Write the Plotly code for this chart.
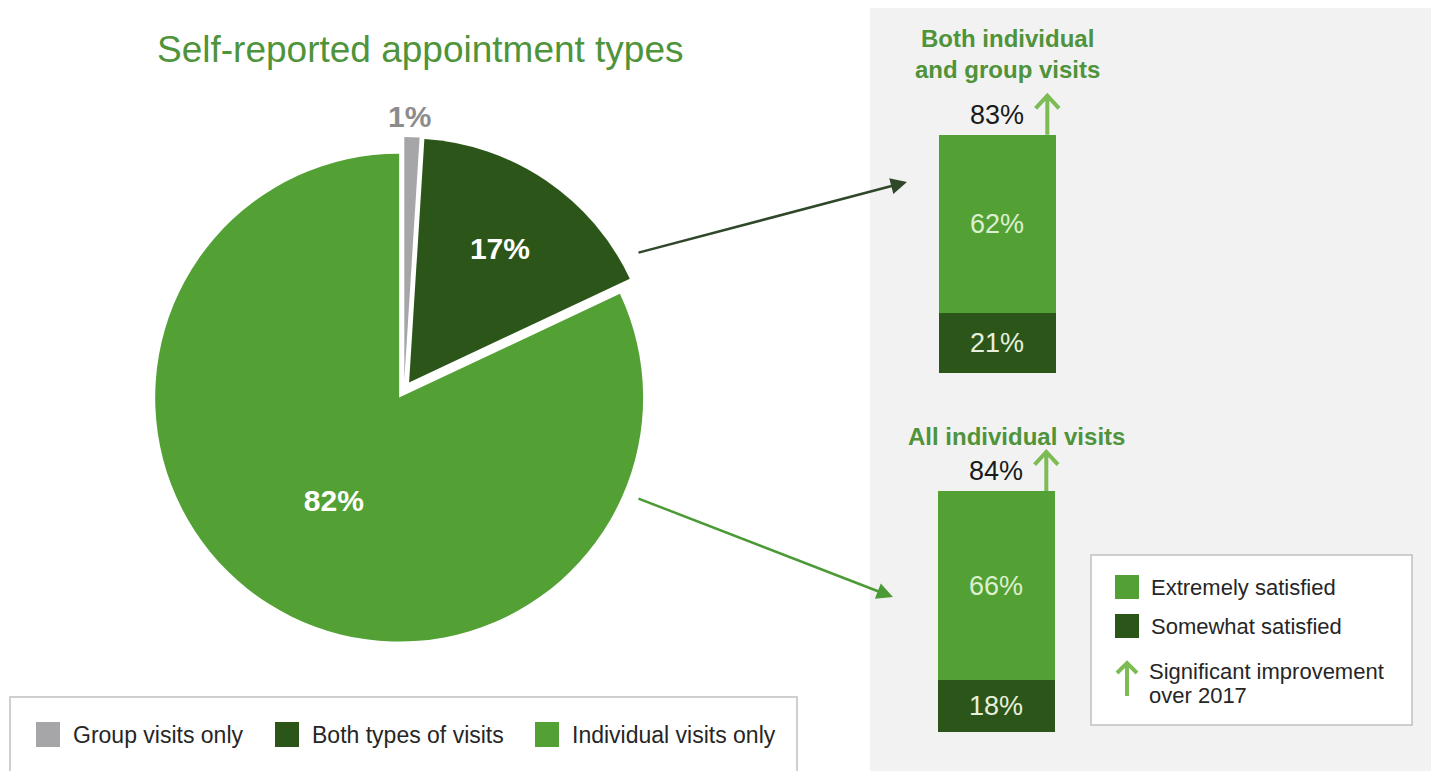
import plotly.graph_objects as go

# ---------------- data ----------------
pie_labels = ["Group visits only", "Both types of visits", "Individual visits only"]
pie_values = [1, 17, 82]

group_titles = ["Both individual<br>and group visits", "All individual visits"]
extremely_satisfied = [62, 66]
somewhat_satisfied = [21, 18]
total_satisfied = [83, 84]

sat_labels = ["Extremely satisfied", "Somewhat satisfied"]
improvement_lines = ["Significant improvement", "over 2017"]
chart_title = "Self-reported appointment types"

# ---------------- style ----------------
W, H = 1431, 771
FONT = "Liberation Sans, Arial, sans-serif"
GRAY = "#a6a6a9"
DARK = "#2c5619"
LIGHT = "#53a135"
ARROW_GREEN = "#7dbb55"
TITLE_GREEN = "#4f933b"
TEXT = "#262626"


def X(px):
    return px / W


def Y(py):
    return 1 - py / H


fig = go.Figure()

# pie (the tiny grey slice gets its label as an annotation centred above it)
pie_text = ["" if v < 5 else f"<b>{v}%</b>" for v in pie_values]
fig.add_trace(go.Pie(
    labels=pie_labels, values=pie_values, sort=False, direction="clockwise",
    rotation=0, pull=[0.037] * 3,
    marker=dict(colors=[GRAY, DARK, LIGHT], line=dict(width=0)),
    text=pie_text, texttemplate="%{text}", textposition="inside",
    insidetextorientation="horizontal",
    textfont=dict(family=FONT, size=30, color="white"),
    domain=dict(x=[X(151), X(657)], y=[Y(643), Y(137)]),
    showlegend=False, hoverinfo="label+percent",
))

# stacked bars, one subplot per group
axes = [("x", "y"), ("x2", "y2")]
for i in range(2):
    xa, ya = axes[i]
    fig.add_trace(go.Bar(
        x=[0], y=[somewhat_satisfied[i]], width=1, name=sat_labels[1],
        marker=dict(color=DARK, line=dict(width=0)),
        texttemplate="%{y}%", textposition="inside", insidetextanchor="middle",
        textangle=0, textfont=dict(family=FONT, size=27, color="#e6f0dd"),
        xaxis=xa, yaxis=ya, showlegend=False,
    ))
    fig.add_trace(go.Bar(
        x=[0], y=[extremely_satisfied[i]], width=1, name=sat_labels[0],
        marker=dict(color=LIGHT, line=dict(width=0)),
        texttemplate="%{y}%", textposition="inside", insidetextanchor="middle",
        textangle=0, textfont=dict(family=FONT, size=27, color="#dcefcf"),
        xaxis=xa, yaxis=ya, showlegend=False,
    ))

shapes = []
annotations = []

# label of the small grey slice
annotations.append(dict(xref="paper", yref="paper", x=X(409), y=Y(116),
                        text=f"<b>{pie_values[0]}%</b>", showarrow=False,
                        xanchor="center", yanchor="middle",
                        font=dict(family=FONT, size=30, color="#8c8c8c")))

# gray panel
shapes.append(dict(type="rect", xref="paper", yref="paper", x0=X(870), x1=1.0,
                   y0=0, y1=Y(8), fillcolor="#f2f2f2", line=dict(width=0), layer="below"))

# totals + improvement arrows
for i in range(2):
    xa, ya = axes[i]
    t = total_satisfied[i]
    annotations.append(dict(xref=xa, yref=ya, x=0, y=t, yanchor="bottom", yshift=3,
                            text=f"{t}%", showarrow=False,
                            font=dict(family=FONT, size=27, color="#1a1a1a")))
    xa0 = 0.43
    shapes.append(dict(type="path", xref=xa, yref=ya,
                       path=(f"M {xa0},{t} L {xa0},{t + 13.6} "
                             f"M {xa0 - 0.1},{t + 9.2} L {xa0},{t + 13.6} L {xa0 + 0.1},{t + 9.2}"),
                       line=dict(color=ARROW_GREEN, width=4)))

# group titles
annotations.append(dict(xref="paper", yref="paper", x=X(1008), y=Y(54), text=f"<b>{group_titles[0]}</b>",
                        showarrow=False, xanchor="center", yanchor="middle",
                        font=dict(family=FONT, size=24, color=TITLE_GREEN)))
annotations.append(dict(xref="paper", yref="paper", x=X(1016), y=Y(436), text=f"<b>{group_titles[1]}</b>",
                        showarrow=False, xanchor="center", yanchor="middle",
                        font=dict(family=FONT, size=24, color=TITLE_GREEN)))

# chart title
annotations.append(dict(xref="paper", yref="paper", x=X(420), y=Y(50), text=chart_title,
                        showarrow=False, xanchor="center", yanchor="middle",
                        font=dict(family=FONT, size=37, color=TITLE_GREEN)))

# pie -> bar arrows
annotations.append(dict(xref="paper", yref="paper", x=X(907), y=Y(182), ax=637 - 907, ay=253 - 182,
                        text="", showarrow=True, arrowhead=2, arrowsize=1.3, arrowwidth=2.5,
                        arrowcolor="#30482a", standoff=0))
annotations.append(dict(xref="paper", yref="paper", x=X(893), y=Y(597), ax=637 - 893, ay=498 - 597,
                        text="", showarrow=True, arrowhead=2, arrowsize=1.3, arrowwidth=2.5,
                        arrowcolor="#4a9a35", standoff=0))

# legend for pie
shapes.append(dict(type="rect", xref="paper", yref="paper", x0=X(10), x1=X(797), y0=Y(775), y1=Y(697),
                   fillcolor="white", line=dict(color="#c0c0c0", width=1.5)))
leg1_sw = [36, 275, 535]
for lab, col, sx in zip(pie_labels, [GRAY, DARK, LIGHT], leg1_sw):
    shapes.append(dict(type="rect", xref="paper", yref="paper", x0=X(sx), x1=X(sx + 24),
                       y0=Y(747), y1=Y(722), fillcolor=col, line=dict(width=0)))
    annotations.append(dict(xref="paper", yref="paper", x=X(sx + 35), y=Y(735), text=lab,
                            showarrow=False, xanchor="left", yanchor="middle",
                            font=dict(family=FONT, size=23, color=TEXT)))

# legend for bars
shapes.append(dict(type="rect", xref="paper", yref="paper", x0=X(1091), x1=X(1412), y0=Y(725), y1=Y(555),
                   fillcolor="white", line=dict(color="#c0c0c0", width=1.5)))
for lab, col, cy in zip(sat_labels, [LIGHT, DARK], [587, 626]):
    shapes.append(dict(type="rect", xref="paper", yref="paper", x0=X(1115), x1=X(1139),
                       y0=Y(cy + 12), y1=Y(cy - 12), fillcolor=col, line=dict(width=0)))
    annotations.append(dict(xref="paper", yref="paper", x=X(1149), y=Y(cy), text=lab,
                            showarrow=False, xanchor="left", yanchor="middle",
                            font=dict(family=FONT, size=22, color=TEXT)))
shapes.append(dict(type="path", xref="paper", yref="paper",
                   path=(f"M {X(1127)},{Y(696)} L {X(1127)},{Y(663)} "
                         f"M {X(1117)},{Y(673)} L {X(1127)},{Y(663)} L {X(1137)},{Y(673)}"),
                   line=dict(color=ARROW_GREEN, width=4)))
for line_txt, cy in zip(improvement_lines, [671, 695]):
    annotations.append(dict(xref="paper", yref="paper", x=X(1147), y=Y(cy), text=line_txt,
                            showarrow=False, xanchor="left", yanchor="middle",
                            font=dict(family=FONT, size=22, color=TEXT)))

axis_common = dict(visible=False, fixedrange=True)
fig.update_layout(
    width=W, height=H, margin=dict(l=0, r=0, t=0, b=0),
    paper_bgcolor="white", plot_bgcolor="rgba(0,0,0,0)",
    barmode="stack", showlegend=False,
    font=dict(family=FONT),
    xaxis=dict(domain=[X(880), X(1114)], range=[-1, 1], anchor="y", **axis_common),
    yaxis=dict(domain=[Y(373), Y(86)], range=[0, 100], anchor="x", **axis_common),
    xaxis2=dict(domain=[X(879), X(1113)], range=[-1, 1], anchor="y2", **axis_common),
    yaxis2=dict(domain=[Y(732), Y(445)], range=[0, 100], anchor="x2", **axis_common),
    shapes=shapes, annotations=annotations,
)

fig.write_html("out.html", config={"displayModeBar": False},
               post_script="document.body.style.margin='0';document.body.style.overflow='hidden';")
